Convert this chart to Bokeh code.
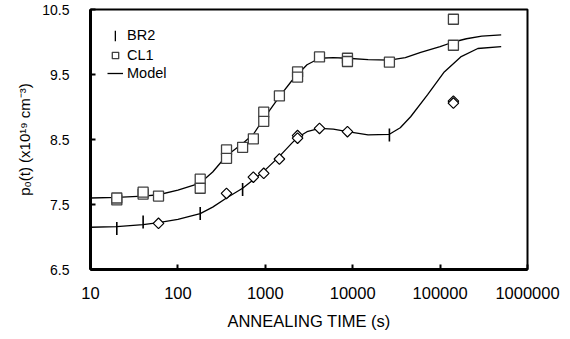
from bokeh.plotting import figure
from bokeh.models import FixedTicker, Legend, LegendItem
from bokeh.embed import file_html
from bokeh.resources import INLINE
import math

# ---- data ----
cl1_t = [20, 20, 40, 40, 60, 180, 180, 360, 360, 550, 730, 960, 960, 1450, 2340, 2340, 4170, 8710, 8710, 26300, 142000, 142000]
cl1_y = [7.57, 7.60, 7.66, 7.69, 7.63, 7.89, 7.75, 8.34, 8.21, 8.38, 8.51, 8.92, 8.78, 9.17, 9.54, 9.46, 9.77, 9.75, 9.70, 9.69, 10.35, 9.95]

dia_t = [60, 360, 730, 960, 1450, 2340, 2340, 4170, 8710, 142000, 142000]
dia_y = [7.21, 7.67, 7.92, 7.98, 8.20, 8.56, 8.52, 8.67, 8.62, 9.09, 9.06]

br2_t = [20, 40, 180, 550, 26300]
br2_y = [7.13, 7.23, 7.36, 7.73, 8.57]

model_up_t = [10, 20, 40, 60, 100, 180, 250, 360, 550, 730, 960, 1450, 2000, 2340, 3000, 4170, 6000, 8710, 15000, 26300, 40000, 60000, 100000, 142000, 200000, 300000, 500000]
model_up_y = [7.60, 7.61, 7.63, 7.65, 7.72, 7.83, 8.00, 8.25, 8.44, 8.58, 8.82, 9.16, 9.40, 9.50, 9.65, 9.75, 9.76, 9.75, 9.73, 9.72, 9.76, 9.84, 9.93, 10.00, 10.05, 10.09, 10.11]

model_lo_t = [10, 20, 40, 60, 100, 180, 250, 360, 550, 730, 960, 1450, 2000, 2340, 3000, 4170, 6000, 8710, 15000, 26300, 35000, 46000, 72000, 110000, 172000, 270000, 500000]
model_lo_y = [7.15, 7.16, 7.19, 7.22, 7.27, 7.36, 7.46, 7.60, 7.75, 7.88, 8.01, 8.24, 8.44, 8.53, 8.62, 8.67, 8.66, 8.62, 8.57, 8.58, 8.68, 8.85, 9.19, 9.53, 9.77, 9.90, 9.93]

x_ticks = [10, 100, 1000, 10000, 100000, 1000000]
x_tick_labels = ["10", "100", "1000", "10000", "100000", "1000000"]
y_ticks = [6.5, 7.5, 8.5, 9.5, 10.5]
y_tick_labels = ["6.5", "7.5", "8.5", "9.5", "10.5"]

FONT = "Liberation Sans"

p = figure(width=570, height=339, x_axis_type="log",
           x_range=(10, 1000000), y_range=(6.5, 10.5),
           output_backend="svg", toolbar_location=None,
           min_border_left=90, min_border_right=43, min_border_top=9, min_border_bottom=70)

p.background_fill_color = "white"
p.border_fill_color = "white"
p.grid.visible = False
p.outline_line_color = "black"
p.outline_line_width = 2

# axes
p.xaxis.ticker = FixedTicker(ticks=x_ticks)
p.xaxis.major_label_overrides = {float(t): l for t, l in zip(x_ticks, x_tick_labels)}
p.yaxis.ticker = FixedTicker(ticks=y_ticks)
p.yaxis.major_label_overrides = {t: l for t, l in zip(y_ticks, y_tick_labels)}
for ax in (p.xaxis, p.yaxis):
    ax.axis_line_width = 3
    ax.axis_line_color = "black"
    ax.major_tick_in = 5
    ax.major_tick_out = 0
    ax.major_tick_line_width = 2
    ax.minor_tick_line_color = None
    ax.major_label_text_font = FONT
    ax.axis_label_text_font = FONT
    ax.axis_label_text_font_style = "normal"
    ax.major_label_text_color = "black"
    ax.axis_label_text_color = "black"

p.xaxis.major_label_text_font_size = "16.5px"
p.xaxis.major_label_standoff = 17
p.xaxis.axis_label = "ANNEALING TIME (s)"
p.xaxis.axis_label_text_font_size = "16.5px"
p.xaxis.axis_label_standoff = 10

p.yaxis.major_label_text_font_size = "14px"
p.yaxis.major_label_standoff = 21
p.yaxis.axis_label = "p\u2080(t) (x10\u00b9\u2079 cm\u207b\u00b3)"
p.yaxis.axis_label_text_font_size = "15px"
p.yaxis.axis_label_standoff = 6

# model curves
r_model = p.line(model_up_t, model_up_y, line_color="black", line_width=1.3)
p.line(model_lo_t, model_lo_y, line_color="black", line_width=1.3)

# diamonds (unlabelled series)
p.scatter(dia_t, dia_y, marker="square", angle=math.pi / 4, size=7.5,
          fill_color="white", line_color="black", line_width=1.2)

# CL1 squares
r_cl1 = p.scatter(cl1_t, cl1_y, marker="square", size=10,
                  fill_color="white", line_color="#404040", line_width=1.3)

# BR2 vertical marks
r_br2 = p.rect(br2_t, br2_y, width=1.6, height=13, width_units="screen", height_units="screen",
               fill_color="black", line_color=None)

leg1 = Legend(items=[LegendItem(label="BR2", renderers=[r_br2])], location=(24, 226))
leg2 = Legend(items=[LegendItem(label="CL1", renderers=[r_cl1]),
                     LegendItem(label="Model", renderers=[r_model])], location=(17, 187))
leg1.glyph_width = 2
leg1.label_standoff = 11
leg1.glyph_height = 13
leg1.label_height = 13
leg2.glyph_width = 16
leg2.label_standoff = 4
leg2.glyph_height = 18
leg2.label_height = 18
for lg in (leg1, leg2):
    lg.label_text_font = FONT
    lg.label_text_font_size = "14.5px"
    lg.label_text_color = "black"
    lg.spacing = 0
    lg.padding = 0
    lg.margin = 0
    lg.border_line_color = None
    lg.background_fill_alpha = 0
    p.add_layout(lg)

open("out.html", "w").write(file_html(p, INLINE))
